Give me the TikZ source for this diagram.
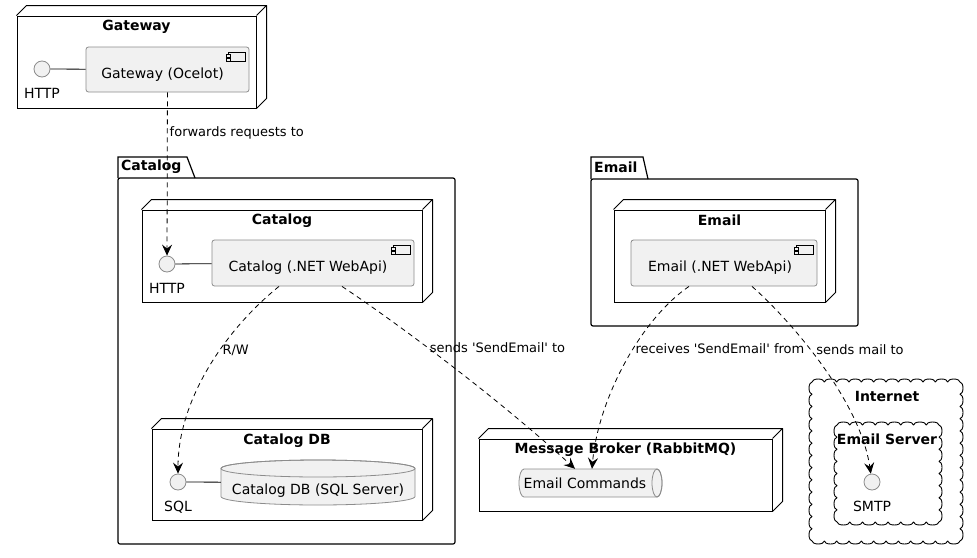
\documentclass[tikz,border=0pt]{standalone}
\usepackage{fontspec}
\setmainfont{DejaVu Sans}
\usetikzlibrary{arrows.meta}
\definecolor{compfill}{HTML}{F1F1F1}
\definecolor{compline}{HTML}{8C8C8C}

\begin{document}
\begin{tikzpicture}[x=1pt, y=-1pt, font=\fontsize{14}{16}\selectfont,
  box/.style={draw, line width=1pt, inner sep=0pt},
  comp/.style={draw=compline, fill=compfill, rounded corners=2.5pt, line width=0.8pt, inner sep=0pt},
  iface/.style={circle, draw=compline, fill=compfill, line width=0.8pt, minimum size=16pt, inner sep=0pt},
  heading/.style={font=\fontsize{14}{16}\selectfont\bfseries},
  lbl/.style={font=\fontsize{13}{15}\selectfont, inner sep=2pt, anchor=west},
  dep/.style={line width=0.8pt, dash pattern=on 5pt off 4pt, -{Stealth[length=11pt, width=10pt, inset=4pt]}}]
  \fill[white] (0,0) rectangle (977,557);
  \useasboundingbox (0,0) rectangle (977,557);

  % packages
  \draw[line width=1.2pt, rounded corners=2pt] (118,178) rectangle (455,544);
  \draw[line width=1.2pt] (118,178) -- (118,157) -- (187,157) -- (195,178);
  \node[heading, anchor=west, inner sep=0pt] (catpkg) at (121,167) {Catalog};
  \draw[line width=1.2pt, rounded corners=2pt] (591,179) rectangle (858,326);
  \draw[line width=1.2pt] (591,179) -- (591,157) -- (643,157) -- (648,179);
  \node[heading, anchor=west, inner sep=0pt] (empkg) at (594,167) {Email};

  % clouds
  \foreach \x/\y/\w/\h/\nx/\ny in {812/382/148/159/12/13, 837/425/102/97/8/8}
    \draw[line width=0.9pt, line join=round] (\x,\y)
      \foreach \i in {1,...,\nx}{arc[start angle=180, end angle=360, x radius=\w/\nx/2, y radius=3]}
      \foreach \i in {1,...,\ny}{arc[start angle=-90, end angle=90, x radius=3, y radius=\h/\ny/2]}
      \foreach \i in {1,...,\nx}{arc[start angle=0, end angle=180, x radius=\w/\nx/2, y radius=3]}
      \foreach \i in {1,...,\ny}{arc[start angle=90, end angle=270, x radius=3, y radius=\h/\ny/2]};
  \node[heading] (inet) at (887,396) {Internet};
  \node[heading] (mailsrv) at (887,439) {Email Server};

  % deployment nodes
  \node[box, minimum width=239, minimum height=92] (gw) at (136.5,62) {};
  \node[box, minimum width=280, minimum height=92] (cat) at (282,256) {};
  \node[box, minimum width=270, minimum height=91] (catdb) at (287,474.5) {};
  \node[box, minimum width=293, minimum height=72] (mq) at (625.5,475) {};
  \node[box, minimum width=211, minimum height=92] (em) at (719.5,256) {};
  \foreach \n in {gw, cat, catdb, mq, em}
    \draw[line width=1pt, line join=round] (\n.north west) -- ++(10,-10) -| ([xshift=10pt, yshift=10pt]\n.south east) -- (\n.south east)
      (\n.north east) -- ++(10,-10);
  \node[heading] (gwt) at ([yshift=-11pt]gw.north) {Gateway};
  \node[heading] (catt) at ([yshift=-11pt]cat.north) {Catalog};
  \node[heading] (catdbt) at ([yshift=-12pt]catdb.north) {Catalog DB};
  \node[heading] (mqt) at ([yshift=-11pt]mq.north) {Message Broker (RabbitMQ)};
  \node[heading] (emt) at ([yshift=-11pt]em.north) {Email};

  % components
  \node[comp, minimum width=163, minimum height=45, label={[xshift=-5pt, yshift=-5.5pt]center:Gateway (Ocelot)}] (gwapp) at (167.5,69.5) {};
  \node[comp, minimum width=202, minimum height=46, label={[xshift=-5pt, yshift=-5pt]center:Catalog (.NET WebApi)}] (catapp) at (313,263) {};
  \node[comp, minimum width=186, minimum height=46, label={[xshift=-4pt, yshift=-5pt]center:Email (.NET WebApi)}] (emapp) at (724,263) {};
  \foreach \c in {gwapp, catapp, emapp}{
    \draw[line width=0.6pt] ([xshift=-21pt, yshift=-6pt]\c.north east) rectangle ++(17,9);
    \draw[line width=0.6pt, fill=compfill] ([xshift=-23pt, yshift=-8pt]\c.north east) rectangle ++(4,2.5);
    \draw[line width=0.6pt, fill=compfill] ([xshift=-23pt, yshift=-12pt]\c.north east) rectangle ++(4,2.5);
  }

  % database and queue
  \draw[compline, fill=compfill, line width=0.8pt] (221,468.5) -- (221,496.5) arc[start angle=180, end angle=0, x radius=97, y radius=8.5]
    -- (415,468.5) arc[start angle=0, end angle=-180, x radius=97, y radius=8.5] -- cycle;
  \draw[compline, line width=0.8pt] (318,468.5) ellipse[x radius=97, y radius=8.5];
  \node[minimum width=194, minimum height=45, inner sep=0pt, label={[yshift=-8pt]center:Catalog DB (SQL Server)}] (catdbs) at (318,482.5) {};
  \draw[compline, fill=compfill, line width=0.8pt] (524,469) -- (657,469) arc[start angle=-90, end angle=90, x radius=5, y radius=14]
    -- (524,497) arc[start angle=90, end angle=270, x radius=5, y radius=14] -- cycle;
  \draw[compline, line width=0.8pt] (657,483) ellipse[x radius=5, y radius=14];
  \node[minimum width=143, minimum height=28, inner sep=0pt, label={[xshift=-5.5pt]center:Email Commands}] (mqq) at (590.5,483) {};

  % interfaces
  \node[iface, label={[label distance=7pt]below:HTTP}] (gwhttp) at (42,69) {};
  \node[iface, label={[label distance=7pt]below:HTTP}] (cathttp) at (167,264) {};
  \node[iface, label={[label distance=7pt]below:SQL}] (catsql) at (178,482) {};
  \node[iface, label={[label distance=7pt]below:SMTP}] (smtp) at (872,482) {};
  \draw[line width=0.8pt] (gwhttp) -- (gwapp);
  \draw[line width=0.8pt] (cathttp) -- (catapp);
  \draw[line width=0.8pt] (catsql) -- (catdbs);

  % dependencies
  \draw[dep] (gwapp) -- (cathttp) node[lbl, pos=0.25] (fwdl) {forwards requests to};
  \draw[dep] ([xshift=-34pt]catapp.south) .. controls (225,330) and (178,400) .. (catsql) node[lbl, pos=0.4] (rwl) {R/W};
  \draw[dep] ([xshift=29pt]catapp.south) .. controls (400,325) and (500,400) .. ([xshift=-15.5pt]mqq.north)
    node[lbl, pos=0.4] (sendl) {sends \textquotesingle SendEmail\textquotesingle{} to};
  \draw[dep] ([xshift=-35pt]emapp.south) .. controls (640,320) and (598,400) .. ([xshift=1.5pt]mqq.north)
    node[lbl, pos=0.42] (recvl) {receives \textquotesingle SendEmail\textquotesingle{} from};
  \draw[dep] ([xshift=28pt]emapp.south) .. controls (790,320) and (860,400) .. (smtp)
    node[lbl, pos=0.42, xshift=4pt] (maill) {sends mail to};
\end{tikzpicture}
\end{document}
